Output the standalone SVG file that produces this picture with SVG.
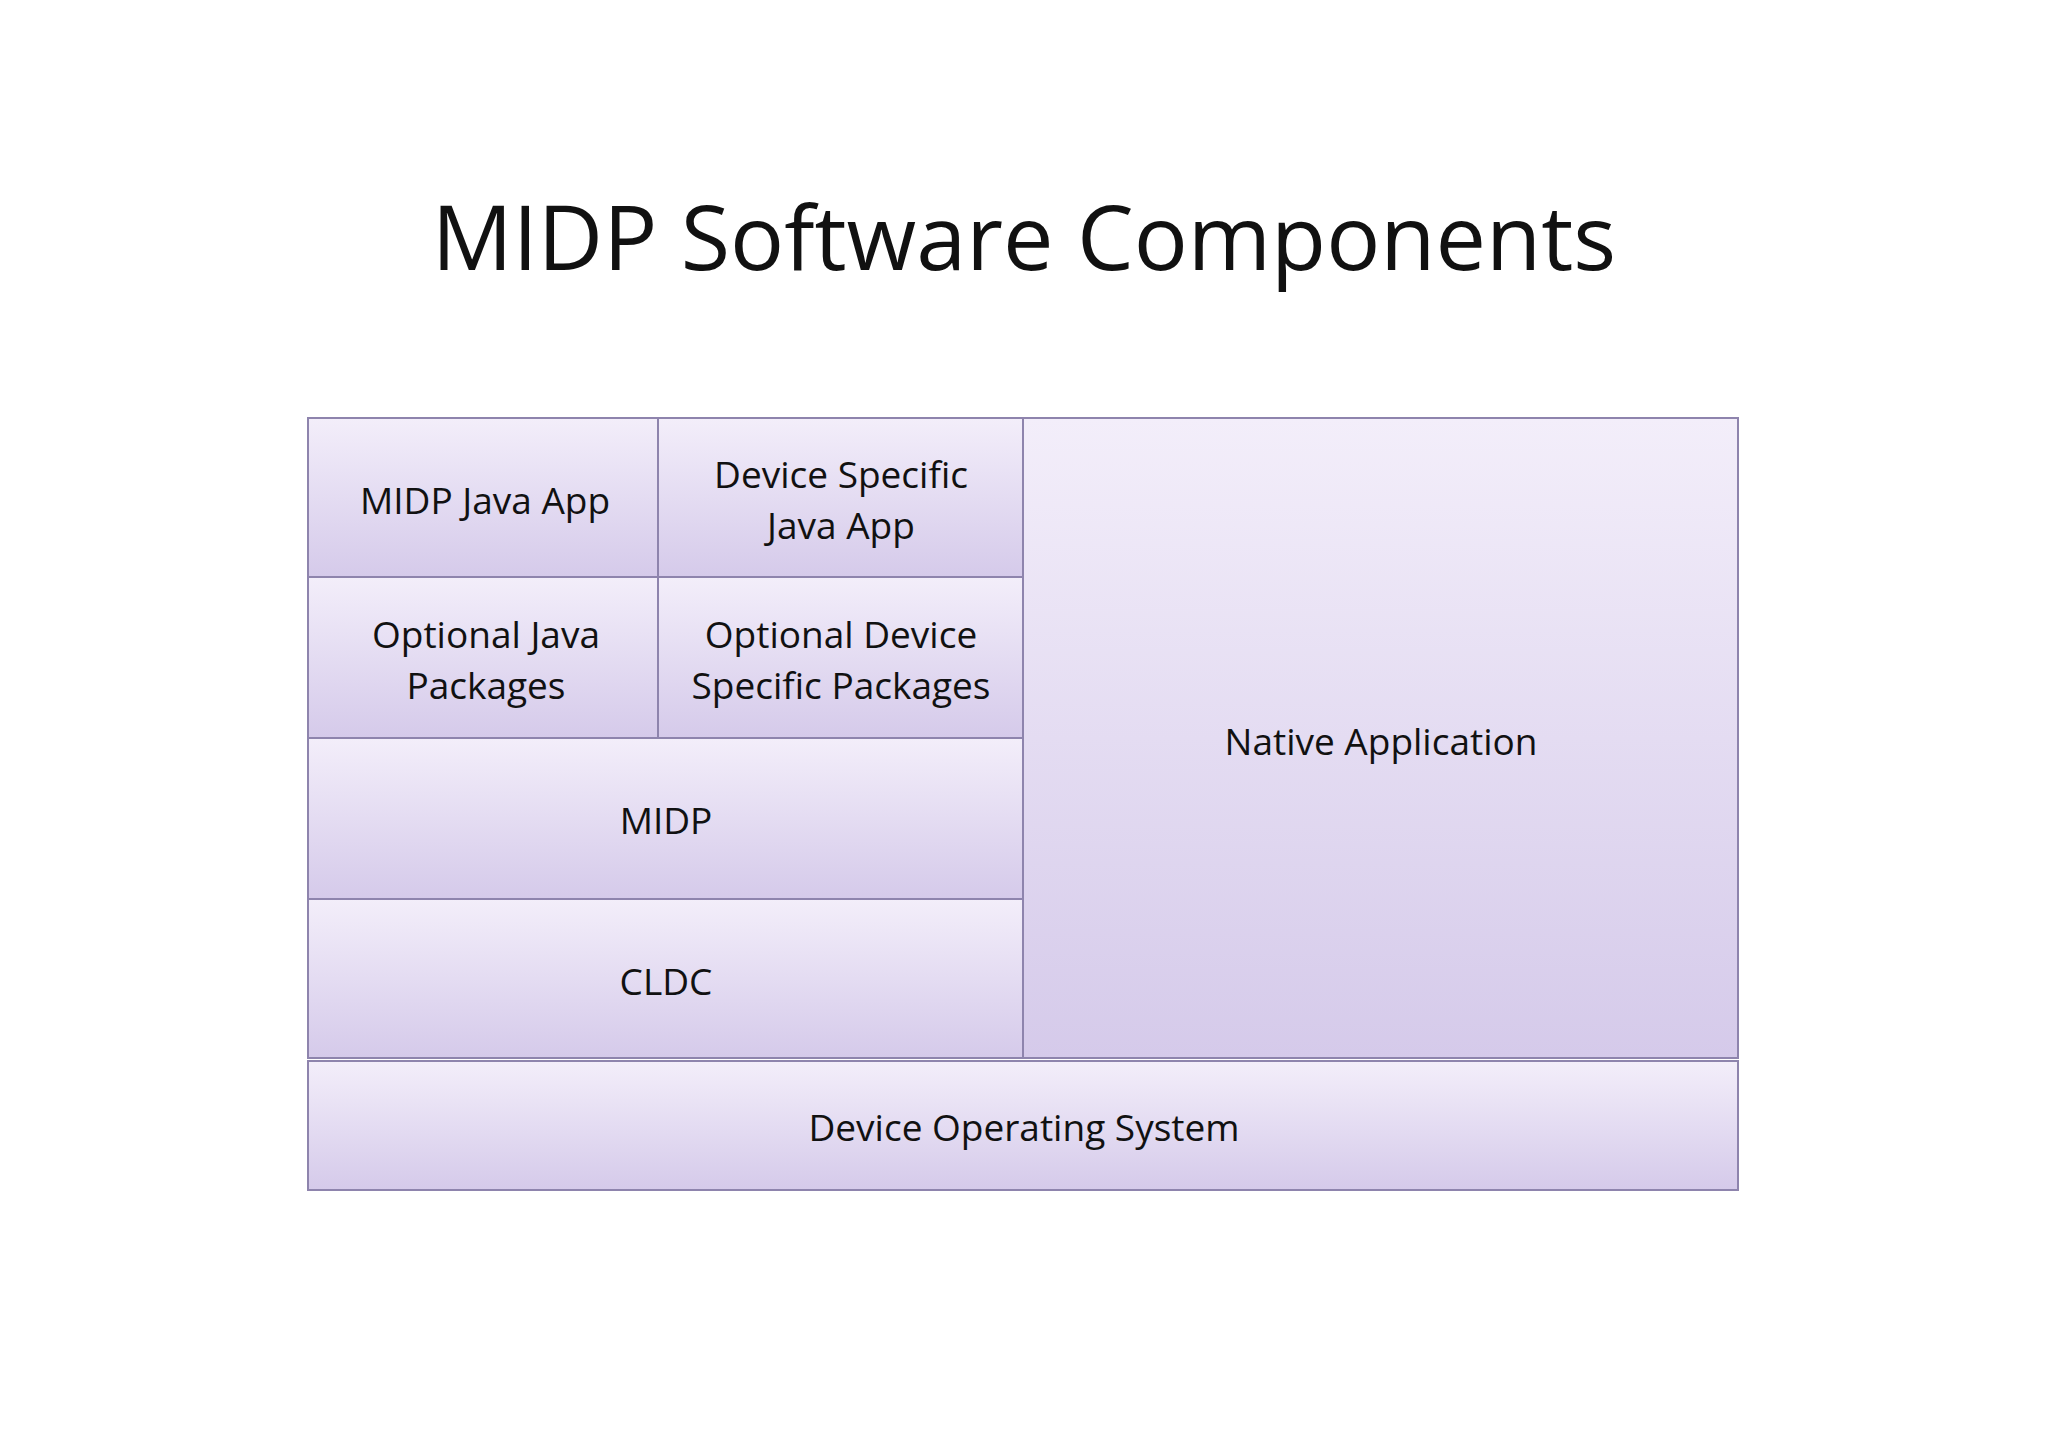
<svg xmlns="http://www.w3.org/2000/svg" width="2048" height="1447" viewBox="0 0 2048 1447">
<defs>
<linearGradient id="g" x1="0" y1="0" x2="0" y2="1">
<stop offset="0" stop-color="#f3eefa"/><stop offset="1" stop-color="#d5caea"/>
</linearGradient>
<style>
rect.b{fill:url(#g);stroke:#8e84ad;stroke-width:2}
text{font-family:"Open Sans","Liberation Sans",sans-serif;font-size:37px;fill:#111;text-anchor:middle}
</style>
</defs>
<rect width="2048" height="1447" fill="#fff"/>
<text x="1024" y="270" style="font-size:90px">MIDP Software Components</text>
<g id="midp-java-app"><rect class="b" x="308" y="418" width="350" height="159"/><text x="485" y="514">MIDP Java App</text></g>
<g id="device-specific-java-app"><rect class="b" x="658" y="418" width="365" height="159"/><text x="841" y="488">Device Specific</text><text x="841" y="539">Java App</text></g>
<g id="optional-java-packages"><rect class="b" x="308" y="577" width="350" height="161"/><text x="486" y="648">Optional Java</text><text x="486" y="699">Packages</text></g>
<g id="optional-device-packages"><rect class="b" x="658" y="577" width="365" height="161"/><text x="841" y="648">Optional Device</text><text x="841" y="699">Specific Packages</text></g>
<g id="midp"><rect class="b" x="308" y="738" width="715" height="161"/><text x="666" y="834">MIDP</text></g>
<g id="cldc"><rect class="b" x="308" y="899" width="715" height="159"/><text x="666" y="995">CLDC</text></g>
<g id="native-app"><rect class="b" x="1023" y="418" width="715" height="640"/><text x="1381" y="755">Native Application</text></g>
<g id="device-os"><rect class="b" x="308" y="1061" width="1430" height="129"/><text x="1024" y="1141">Device Operating System</text></g>
<g id="connectors"/>
</svg>
